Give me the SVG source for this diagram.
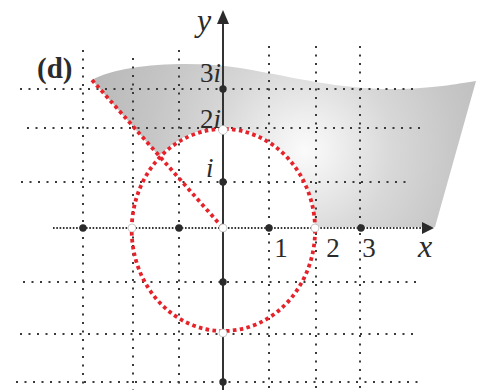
<svg xmlns="http://www.w3.org/2000/svg" width="477" height="390" viewBox="0 0 477 390">
<defs>
<radialGradient id="shade" gradientUnits="userSpaceOnUse" cx="305" cy="150" r="220">
<stop offset="0" stop-color="#fbfbfb"/>
<stop offset="0.12" stop-color="#f1f1f1"/>
<stop offset="0.4" stop-color="#d8d8d8"/>
<stop offset="0.7" stop-color="#c6c6c6"/>
<stop offset="1" stop-color="#b9b9b9"/>
</radialGradient>
<style>
.grid{stroke:#3a3a3a;stroke-width:2;stroke-dasharray:2 6.5;fill:none}
.xax{stroke:#333;stroke-width:2;stroke-dasharray:1.6 1.7;fill:none}
.red{stroke:#e6232b;stroke-width:3.8;stroke-dasharray:3.6 3.3;fill:none}
.dot{fill:#2b2b2b}
.hol{fill:#fff;stroke:#aaa;stroke-width:0.6}
.num{font-family:"Liberation Serif","Times New Roman",serif;font-size:27px;fill:#2b2b2b}
.it{font-style:italic}
</style>
</defs>
<rect width="477" height="390" fill="#fff"/>
<g id="region">
<path d="M92,80 C120,64 190,60 240,68 C300,78 340,90 400,89 C440,88 460,83 476,81 L435,227 L315,227 A92,101 0 0 0 159,156 Z" fill="url(#shade)"/>
</g>
<g id="grid">
<line class="grid" x1="20" y1="89" x2="417" y2="89"/>
<line class="grid" x1="27" y1="128" x2="420" y2="128"/>
<line class="grid" x1="21" y1="182" x2="408" y2="182"/>
<line class="grid" x1="23" y1="282" x2="419" y2="282"/>
<line class="grid" x1="20" y1="334" x2="415" y2="334"/>
<line class="grid" x1="16" y1="382" x2="418" y2="382"/>
<line class="grid" x1="83" y1="50" x2="83" y2="390"/>
<line class="grid" x1="133" y1="58" x2="133" y2="390"/>
<line class="grid" x1="179" y1="50" x2="179" y2="390"/>
<line class="grid" x1="269" y1="46" x2="269" y2="390"/>
<line class="grid" x1="316" y1="46" x2="316" y2="390"/>
<line class="grid" x1="360" y1="46" x2="360" y2="390"/>
</g>
<g id="curves">
<ellipse class="red" cx="223.4" cy="230" rx="91.7" ry="101"/>
<line class="red" x1="92" y1="80" x2="223" y2="228"/>
</g>
<g id="axes">
<line class="xax" x1="53" y1="228" x2="424" y2="228"/>
<polygon points="434,228 422,222 422,234" fill="#2b2b2b"/>
<line x1="223" y1="390" x2="223" y2="22" stroke="#333" stroke-width="2"/>
<polygon points="223,10 217,24 229,24" fill="#2b2b2b"/>
</g>
<g id="points">
<circle class="dot" cx="83" cy="228" r="3.7"/>
<circle class="dot" cx="179" cy="228" r="3.7"/>
<circle class="dot" cx="269" cy="228" r="3.7"/>
<circle class="dot" cx="361" cy="228" r="3.7"/>
<circle class="dot" cx="223" cy="89" r="3.7"/>
<circle class="dot" cx="223" cy="182" r="3.7"/>
<circle class="dot" cx="223" cy="282" r="3.7"/>
<circle class="dot" cx="223" cy="382" r="3.7"/>
<circle class="hol" cx="132" cy="228" r="4"/>
<circle class="hol" cx="315" cy="228" r="4"/>
<circle class="hol" cx="223" cy="228" r="4"/>
<circle class="hol" cx="223" cy="130" r="4.5"/>
<circle class="hol" cx="223" cy="333" r="4"/>
</g>
<g id="labels">
<text x="37" y="78" class="num" style="font-weight:bold;font-size:29px">(d)</text>
<text x="197" y="31" class="num it" style="font-size:32px">y</text>
<text x="418" y="257" class="num it" style="font-size:32px">x</text>
<text x="200" y="82" class="num">3<tspan class="it">i</tspan></text>
<text x="200" y="128" class="num">2<tspan class="it">i</tspan></text>
<text x="206" y="177" class="num it">i</text>
<text x="281" y="257" class="num" text-anchor="middle">1</text>
<text x="333" y="257" class="num" text-anchor="middle">2</text>
<text x="369" y="257" class="num" text-anchor="middle">3</text>
</g>
</svg>
